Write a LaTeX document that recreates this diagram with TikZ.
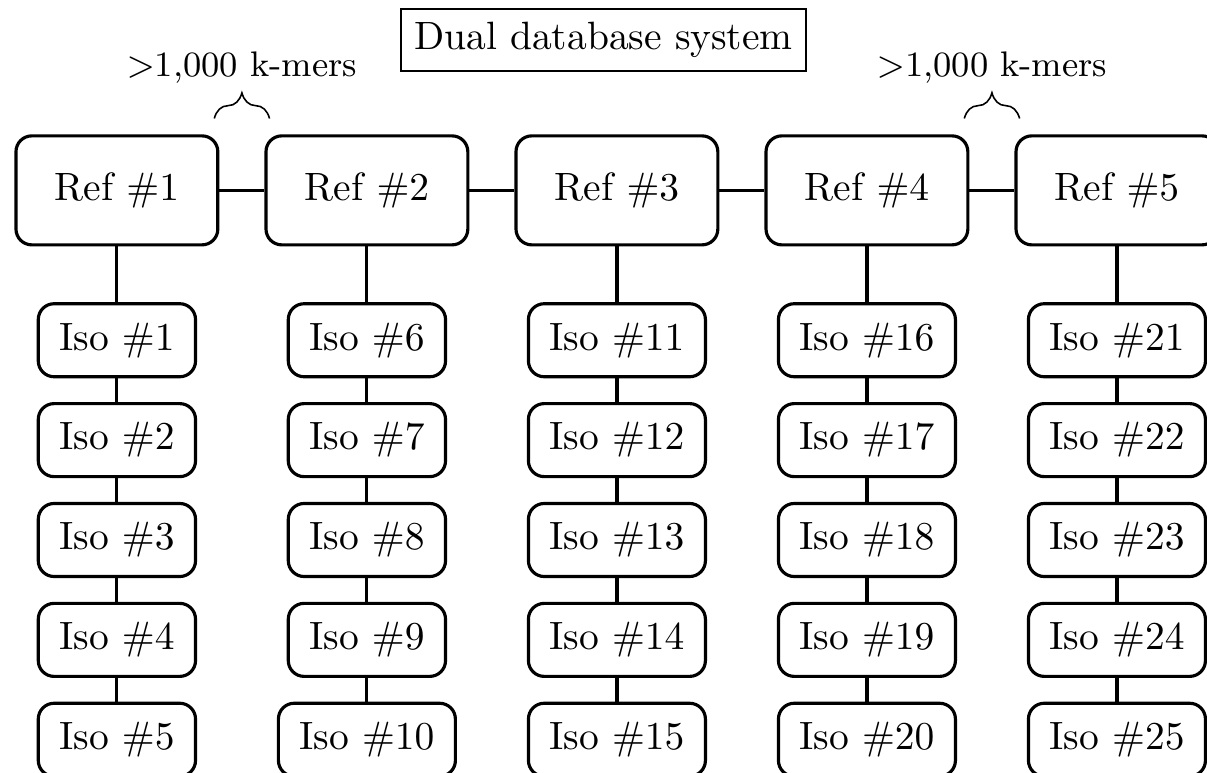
\documentclass[tikz,border=0pt]{standalone}
\usepackage{amsmath,amssymb}
\usepackage{tikz}
\usetikzlibrary{positioning, calc, decorations.pathreplacing}
\tikzset{
  refNode/.style={
    draw,
    thick,
    rounded corners,
    fill=white,
    minimum width=51.1pt,
    minimum height=27.6pt,
    inner sep=2pt
  },
  isoNode/.style={
    draw,
    thick,
    rounded corners,
    fill=white,
    inner xsep=5.3pt,
    inner ysep=4.8pt
  },
  titleNode/.style={
    draw,
    inner sep=3.33pt
  },
  every edge/.style={
    draw,
    thick
  },
  kmerBrace/.style={
    decorate,
    decoration={brace, amplitude=6.5pt}
  },
  kmerLabel/.style={
    font=\small
  }
}

\begin{document}
\begin{tikzpicture}[node distance=6pt]
      \clip (-29.6pt,-147.5pt) rectangle (276pt,48.2pt);

      \node[refNode] (ref1) at (0,0) {Ref $\#1$};
      \node[refNode] (ref2) [right=11.4pt of ref1] {Ref $\#2$};
      \node[refNode] (ref3) [right=11.4pt of ref2] {Ref $\#3$};
      \node[refNode] (ref4) [right=11.4pt of ref3] {Ref $\#4$};
      \node[refNode] (ref5) [right=11.4pt of ref4] {Ref $\#5$};

      \node[titleNode] (title) [above=15.8pt of ref3, xshift=-3.4pt] {Dual database system};

      % isolates under each reference
      \node[isoNode] (iso1) [below=14.1pt of ref1] {Iso $\#1$};
      \node[isoNode] (iso2) [below=of iso1] {Iso $\#2$};
      \node[isoNode] (iso3) [below=of iso2] {Iso $\#3$};
      \node[isoNode] (iso4) [below=of iso3] {Iso $\#4$};
      \node[isoNode] (iso5) [below=of iso4] {Iso $\#5$};

      \node[isoNode] (iso6) [below=14.1pt of ref2] {Iso $\#6$};
      \node[isoNode] (iso7) [below=of iso6] {Iso $\#7$};
      \node[isoNode] (iso8) [below=of iso7] {Iso $\#8$};
      \node[isoNode] (iso9) [below=of iso8] {Iso $\#9$};
      \node[isoNode] (iso10) [below=of iso9] {Iso $\#10$};

      \node[isoNode] (iso11) [below=14.1pt of ref3] {Iso $\#11$};
      \node[isoNode] (iso12) [below=of iso11] {Iso $\#12$};
      \node[isoNode] (iso13) [below=of iso12] {Iso $\#13$};
      \node[isoNode] (iso14) [below=of iso13] {Iso $\#14$};
      \node[isoNode] (iso15) [below=of iso14] {Iso $\#15$};

      \node[isoNode] (iso16) [below=14.1pt of ref4] {Iso $\#16$};
      \node[isoNode] (iso17) [below=of iso16] {Iso $\#17$};
      \node[isoNode] (iso18) [below=of iso17] {Iso $\#18$};
      \node[isoNode] (iso19) [below=of iso18] {Iso $\#19$};
      \node[isoNode] (iso20) [below=of iso19] {Iso $\#20$};

      \node[isoNode] (iso21) [below=14.1pt of ref5] {Iso $\#21$};
      \node[isoNode] (iso22) [below=of iso21] {Iso $\#22$};
      \node[isoNode] (iso23) [below=of iso22] {Iso $\#23$};
      \node[isoNode] (iso24) [below=of iso23] {Iso $\#24$};
      \node[isoNode] (iso25) [below=of iso24] {Iso $\#25$};

      \path
      (ref1) edge (ref2)
      (ref2) edge (ref3)
      (ref3) edge (ref4)
      (ref4) edge (ref5)
      (ref1) edge (iso1)
      (iso1) edge (iso2)
      (iso2) edge (iso3)
      (iso3) edge (iso4)
      (iso4) edge (iso5)
      (ref2) edge (iso6)
      (iso6) edge (iso7)
      (iso7) edge (iso8)
      (iso8) edge (iso9)
      (iso9) edge (iso10)
      (ref3) edge (iso11)
      (iso11) edge (iso12)
      (iso12) edge (iso13)
      (iso13) edge (iso14)
      (iso14) edge (iso15)
      (ref4) edge (iso16)
      (iso16) edge (iso17)
      (iso17) edge (iso18)
      (iso18) edge (iso19)
      (iso19) edge (iso20)
      (ref5) edge (iso21)
      (iso21) edge (iso22)
      (iso22) edge (iso23)
      (iso23) edge (iso24)
      (iso24) edge (iso25);

      % k-mer overlap braces
      \draw[kmerBrace] ($(ref1.north east)+(-1.3pt,4pt)$) -- ($(ref2.north west)+(1.3pt,4pt)$)
        node[kmerLabel, midway, above=5.3pt] {$>$1,000 k-mers};
      \draw[kmerBrace] ($(ref4.north east)+(-1.3pt,4pt)$) -- ($(ref5.north west)+(1.3pt,4pt)$)
        node[kmerLabel, midway, above=5.3pt] {$>$1,000 k-mers};
    \end{tikzpicture}
\end{document}
